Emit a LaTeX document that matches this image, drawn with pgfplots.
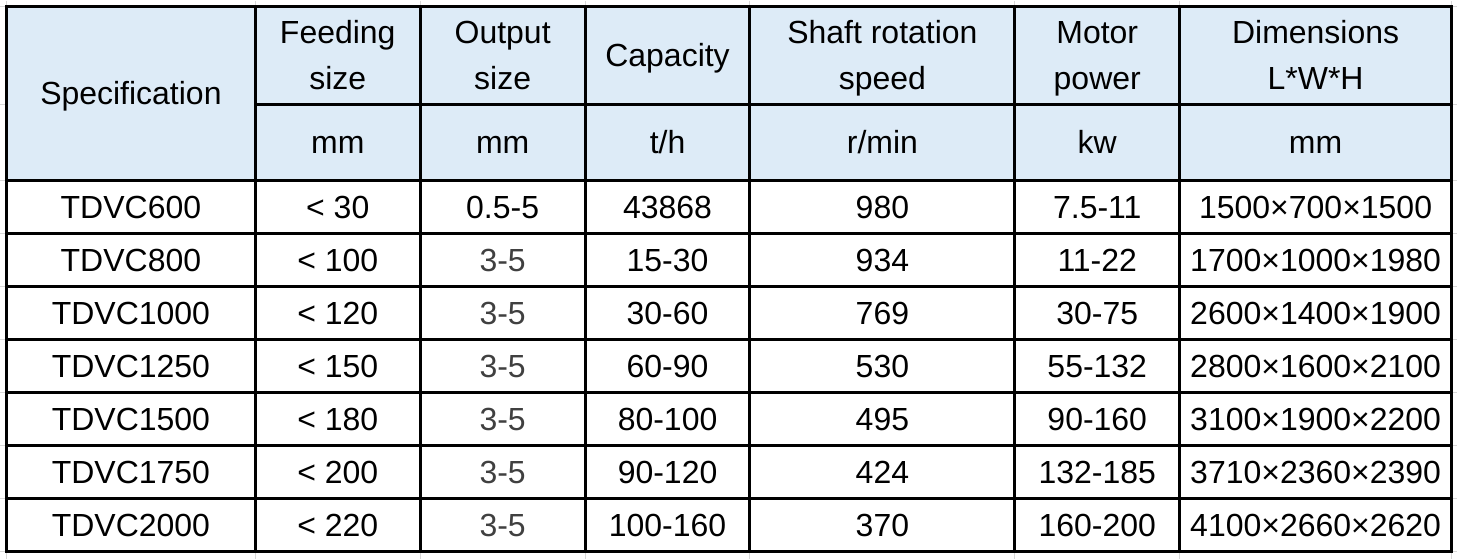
\documentclass[border=0pt]{standalone}
\usepackage{fontspec}
\setmainfont{Liberation Sans}
\usepackage{pgfplots}
\usepackage{pgfplotstable}
\pgfplotsset{compat=1.18}
\definecolor{headblue}{RGB}{221,235,247}
\definecolor{cellgray}{RGB}{64,64,64}
\definecolor{sheetgrid}{RGB}{215,215,215}

% cell texts: x = column centre, y = line centre (pixels from top)
\pgfplotstableread[col sep=comma]{
x,y,t
130.5,93,Specification
337.5,32,Feeding
337.5,78,size
502.5,32,Output
502.5,78,size
667.5,55,Capacity
882.5,32,Shaft rotation
882.5,78,speed
1097.5,32,Motor
1097.5,78,power
1316,32,Dimensions
1316,78,L*W*H
337.5,142,mm
502.5,142,mm
667.5,142,t/h
882.5,142,r/min
1097.5,142,kw
1316,142,mm
}\header

\pgfplotstableread[col sep=comma]{
x,y,t
130.5,206.5,TDVC600
337.5,206.5,< 30
502.5,206.5,0.5-5
667.5,206.5,43868
882.5,206.5,980
1097.5,206.5,7.5-11
1316,206.5,1500×700×1500
130.5,259.5,TDVC800
337.5,259.5,< 100
667.5,259.5,15-30
882.5,259.5,934
1097.5,259.5,11-22
1316,259.5,1700×1000×1980
130.5,312.5,TDVC1000
337.5,312.5,< 120
667.5,312.5,30-60
882.5,312.5,769
1097.5,312.5,30-75
1316,312.5,2600×1400×1900
130.5,365.5,TDVC1250
337.5,365.5,< 150
667.5,365.5,60-90
882.5,365.5,530
1097.5,365.5,55-132
1316,365.5,2800×1600×2100
130.5,418.5,TDVC1500
337.5,418.5,< 180
667.5,418.5,80-100
882.5,418.5,495
1097.5,418.5,90-160
1316,418.5,3100×1900×2200
130.5,471.5,TDVC1750
337.5,471.5,< 200
667.5,471.5,90-120
882.5,471.5,424
1097.5,471.5,132-185
1316,471.5,3710×2360×2390
130.5,524.5,TDVC2000
337.5,524.5,< 220
667.5,524.5,100-160
882.5,524.5,370
1097.5,524.5,160-200
1316,524.5,4100×2660×2620
}\body

\pgfplotstableread[col sep=comma]{
x,y,t
502.5,259.5,3-5
502.5,312.5,3-5
502.5,365.5,3-5
502.5,418.5,3-5
502.5,471.5,3-5
502.5,524.5,3-5
}\grayed

\begin{document}
\begin{tikzpicture}
\begin{axis}[
    width=1457pt, height=559pt,
    scale only axis,
    xmin=0, xmax=1457,
    ymin=0, ymax=559,
    y dir=reverse,
    hide axis,
    clip=false,
    every node near coord/.append style={anchor=center,
        font=\fontsize{32}{38}\selectfont, inner sep=0pt,
        text height=22.9pt, text depth=0pt},
]
% spreadsheet grid behind the table
\pgfplotsinvokeforeach{6,255,420,585,750,1015,1180,1452}{
  \addplot[sheetgrid, line width=1pt] coordinates {(#1,0) (#1,559)};
}
\pgfplotsinvokeforeach{6,104,180,233,286,339,392,445,498,551}{
  \addplot[sheetgrid, line width=1pt] coordinates {(0,#1) (1457,#1)};
}
% table body and header backgrounds
\addplot[fill=white, draw=none] coordinates {(6,180) (1452,180) (1452,551) (6,551)} -- cycle;
\addplot[fill=headblue, draw=none] coordinates {(6,6) (1452,6) (1452,180) (6,180)} -- cycle;
% borders
\pgfplotsinvokeforeach{6,255,420,585,750,1015,1180,1452}{
  \addplot[black, line width=3pt, line cap=rect] coordinates {(#1,6) (#1,551)};
}
\pgfplotsinvokeforeach{6,180,233,286,339,392,445,498,551}{
  \addplot[black, line width=3pt, line cap=rect] coordinates {(6,#1) (1452,#1)};
}
\addplot[black, line width=3pt, line cap=rect] coordinates {(255,104) (1452,104)};
% texts
\addplot[draw=none, mark=none, nodes near coords, point meta=explicit symbolic,
  every node near coord/.append style={text=black}]
  table[x=x, y=y, meta=t] {\header};
\addplot[draw=none, mark=none, nodes near coords, point meta=explicit symbolic,
  every node near coord/.append style={text=black}]
  table[x=x, y=y, meta=t] {\body};
\addplot[draw=none, mark=none, nodes near coords, point meta=explicit symbolic,
  every node near coord/.append style={text=cellgray}]
  table[x=x, y=y, meta=t] {\grayed};
\end{axis}
\end{tikzpicture}
\end{document}
